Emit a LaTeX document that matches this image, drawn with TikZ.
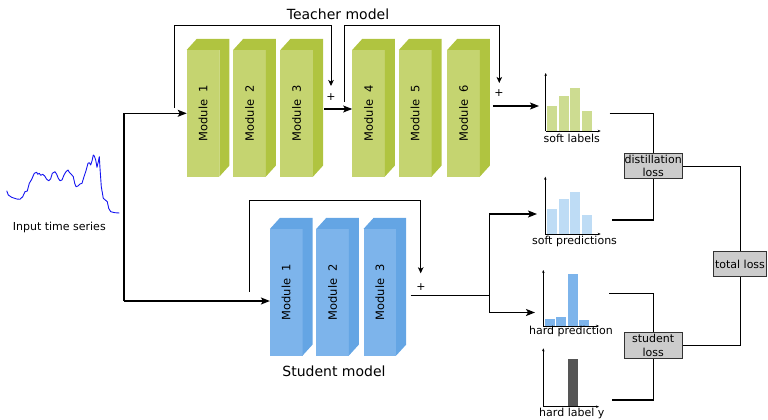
\documentclass[tikz,border=0pt]{standalone}
\usepackage{fontspec}
\setmainfont{DejaVu Sans}
\usetikzlibrary{arrows.meta,calc}
\definecolor{gfront}{RGB}{197,212,112}
\definecolor{gside}{RGB}{176,196,64}
\definecolor{bfront}{RGB}{125,180,235}
\definecolor{bside}{RGB}{100,165,228}
\definecolor{softg}{RGB}{205,220,145}
\definecolor{softb}{RGB}{190,220,245}
\definecolor{hardb}{RGB}{125,180,235}
\definecolor{hardk}{RGB}{85,85,85}
\definecolor{lossfill}{RGB}{204,204,204}
\definecolor{seriesc}{RGB}{20,20,240}
\newcommand\modcube[6]{%
  \node[modfront, fill=#4] (#1) at (#2,#3) {};
  \fill[#5] (#1.north west) -- ++(10,-11) -- ($(#1.north east)+(10,-11)$)
     -- ($(#1.south east)+(10,-11)$) -- (#1.south east) -- (#1.north east) -- cycle;
  \node[modlabel] (#1l) at (#1.center) {Module\ \ #6};
}
\begin{document}
\begin{tikzpicture}[x=1pt,y=-1pt,
  modfront/.style={minimum width=32.6pt, minimum height=126.7pt, inner sep=0pt, outer sep=0pt, draw=none},
  modlabel/.style={rotate=90, font=\fontsize{11.5}{13}\selectfont, inner sep=0pt},
  line/.style={line width=1.1pt, black},
  arr/.style={line width=1.1pt, black, -{Stealth[length=9pt,width=7pt,inset=2pt]}},
  arrs/.style={line width=0.9pt, black, -{Stealth[length=6pt,width=5.5pt,inset=1.5pt]}},
  axis/.style={line width=0.7pt, black, -{Stealth[length=3pt,width=2.5pt]}},
  lossbox/.style={draw=black!80, line width=0.9pt, fill=lossfill, minimum width=58.3pt, minimum height=25.4pt, inner sep=0pt, align=center, font=\fontsize{11}{13.5}\selectfont},
  lbl/.style={font=\fontsize{11}{13}\selectfont, inner sep=0pt},
  title/.style={font=\fontsize{14}{16}\selectfont, inner sep=0pt},
  plus/.style={font=\fontsize{11}{13}\selectfont, inner sep=0pt}
]
\useasboundingbox (0,0) rectangle (768,420);

% time series
\draw[seriesc, line width=0.9pt, line join=round] plot coordinates {
(6.7,190.7) (8.3,195) (11.7,197.3) (16.7,199) (20,199.3) (22.7,196.7) (25,191.7)
(27.3,191) (29.3,183.3) (31.7,179.3) (34.3,173.3) (36.7,172.3) (37.7,174.3)
(39.3,173.3) (40.7,175.3) (42.7,174.3) (44.7,176) (46.7,179.3) (48.7,180.7)
(50.7,178.7) (52.3,173.3) (55,171.7) (56.7,174.3) (58.3,178.3) (60,180.7)
(62,180) (64,175) (66,171.7) (68,170) (69.3,172.3) (71.3,174.3) (73.3,176.7)
(74.7,183.3) (76,186.7) (78,186) (80,184) (82,183.3) (84,176.7) (86,170.7)
(88,163.3) (89.3,162.7) (90.7,165) (92,161) (93.3,155) (94.3,156) (95.7,160)
(97,167.3) (98.3,161.7) (99.3,156.7) (100,168.3) (101.3,186.7) (103.3,198.3)
(105.3,200) (107.3,201.7) (108.7,208.3) (110.7,211.7) (115,212.7) (119.3,213)};
\node[lbl] (tslabel) at (59.3,227.3) {Input time series};

% teacher modules
\modcube{t1}{203}{113.3}{gfront}{gside}{1}
\modcube{t2}{249.5}{113.3}{gfront}{gside}{2}
\modcube{t3}{296.7}{113.3}{gfront}{gside}{3}
\modcube{t4}{368.5}{113.3}{gfront}{gside}{4}
\modcube{t5}{415.2}{113.3}{gfront}{gside}{5}
\modcube{t6}{463.5}{113.3}{gfront}{gside}{6}
\node[title] (teacher) at (338,14) {Teacher model};

% student modules
\modcube{s1}{286.2}{292.3}{bfront}{bside}{1}
\modcube{s2}{332.5}{292.3}{bfront}{bside}{2}
\modcube{s3}{379.8}{292.3}{bfront}{bside}{3}
\node[title] (student) at (334,371.7) {Student model};

% input split
\coordinate (vtop) at (124,113.3);
\coordinate (vbot) at (124,301);
\draw[arr] (vbot) -- (vtop) -- (t1.west);
\draw[arr] (vbot) -- ($(s1.west)+(0,8.7)$);

% teacher skips
\coordinate (sk1a) at (174,108);
\coordinate (sk1b) at (331,86);
\draw[arrs] (sk1a) -- (174,25) -| (sk1b);
\node[plus] (p1) at (331,97) {+};
\draw[arr] ($(t3.east)+(11,-4.3)$) -- ($(t4.west)+(0,-4.3)$);
\coordinate (sk2a) at (344.3,102);
\coordinate (sk2b) at (499.3,83);
\draw[arrs] (sk2a) -- (344.3,25) -| (sk2b);
\node[plus] (p2) at (499,93) {+};
\coordinate (slin) at (539,106);
\draw[arr] ($(t6.east)+(13,-7.3)$) -- (slin);

% student skip
\coordinate (sska) at (249,291.7);
\coordinate (sskb) at (420.7,273.3);
\draw[arrs] (sska) -- (249,200) -| (sskb);
\node[plus] (p3) at (421,287) {+};
\coordinate (sout) at (489.3,295.3);
\coordinate (spin) at (537,214);
\coordinate (hpin) at (535,312.5);
\draw[line] ($(s3.east)+(14.5,3)$) -- (sout);
\draw[arr] (sout) |- (spin);
\draw[arr] (sout) |- (hpin);

% soft labels chart
\fill[softg] (547,131) rectangle (557,106);
\fill[softg] (558.5,131) rectangle (568.5,95.7);
\fill[softg] (570,131) rectangle (580,88);
\fill[softg] (581.5,131) rectangle (591.5,111);
\draw[axis] (545.7,131) -- (545.7,73);
\draw[axis] (545.7,131) -- (600.7,131);
\node[lbl] (sl) at (571.7,138) {soft labels};

% soft predictions chart
\fill[softb] (547,234) rectangle (557,209);
\fill[softb] (558.5,234) rectangle (568.5,199);
\fill[softb] (570,234) rectangle (580,192);
\fill[softb] (581.5,234) rectangle (591.5,215);
\draw[axis] (545.3,234) -- (545.3,176.7);
\draw[axis] (545.3,234) -- (600.7,234);
\node[lbl] (sp) at (574.5,241.7) {soft predictions};

% hard prediction chart
\fill[hardb] (545,326) rectangle (555,319);
\fill[hardb] (556,326) rectangle (566,317);
\fill[hardb] (568.3,326) rectangle (578.3,274);
\fill[hardb] (579.3,326) rectangle (589.3,320);
\draw[axis] (543.3,326) -- (543.3,270);
\draw[axis] (543.3,326) -- (599,326);
\node[lbl] (hp) at (571,331.7) {hard prediction};

% hard label chart
\fill[hardk] (568.3,406.7) rectangle (578.3,359);
\draw[axis] (543.3,406.7) -- (543.3,348.3);
\draw[axis] (543.3,406.7) -- (599,406.7);
\node[lbl] (hl) at (571.8,413.3) {hard label y};

% loss boxes
\node[lossbox] (dl) at (653.2,166) {distillation\\loss};
\node[lossbox] (stl) at (653.2,345.5) {student\\loss};
\node[lossbox, minimum width=53.4pt, minimum height=25pt] (tl) at (740,264.2) {total loss};

\coordinate (slout) at (609.7,113.3);
\coordinate (spout) at (611.7,220);
\coordinate (hpout) at (609,293.3);
\coordinate (hlout) at (611.7,400);
\draw[line] (slout) -| (dl.north);
\draw[line] (dl.south) |- (spout);
\draw[line] (hpout) -| (stl.north);
\draw[line] (stl.south) |- (hlout);
\draw[line, line width=0.9pt] (dl.east) -| (tl.north);
\draw[line, line width=0.9pt] (tl.south) |- (stl.east);
\end{tikzpicture}
\end{document}
